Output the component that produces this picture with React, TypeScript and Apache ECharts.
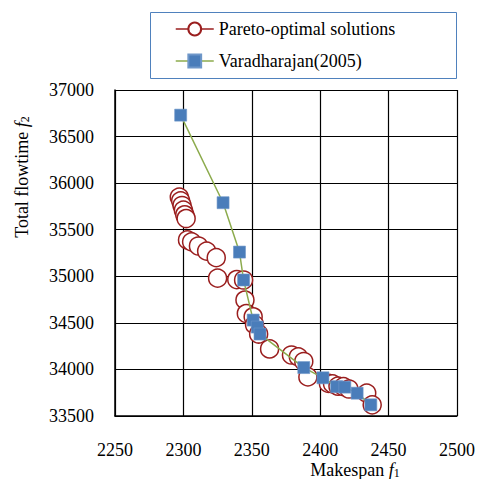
import React, { useEffect, useRef } from "react";
import * as echarts from "echarts";

// Pareto-optimal solutions (makespan f1, total flowtime f2)
const paretoMakespan = [2297, 2298, 2299, 2300, 2301, 2302, 2303, 2306, 2311, 2317, 2324, 2325, 2339, 2344, 2345, 2346, 2351, 2352, 2355, 2363, 2379, 2384, 2388, 2391, 2406, 2409, 2413, 2417, 2421, 2434, 2438];
const paretoFlowtime = [35850, 35810, 35760, 35710, 35660, 35620, 35390, 35370, 35325, 35270, 35200, 34980, 34965, 34960, 34745, 34600, 34565, 34480, 34380, 34220, 34155, 34135, 34085, 33920, 33850, 33845, 33820, 33815, 33790, 33745, 33620];

// Varadharajan (2005)
const varaMakespan = [2298, 2329, 2341, 2344, 2351, 2354, 2356, 2388, 2402, 2412, 2418, 2427, 2437];
const varaFlowtime = [36730, 35790, 35260, 34960, 34530, 34455, 34380, 34020, 33910, 33815, 33810, 33745, 33620];

const seriesNames = ["Pareto-optimal solutions", "Varadharajan(2005)"];
const xRange = [2250, 2500, 50];
const yRange = [33500, 37000, 500];

const FONT = "Liberation Serif";
const RED = "#9A1E1E";
const BLUE = "#4A7DBA";
const GREEN = "#8CAB4D";

export default function App() {
  const ref = useRef<HTMLDivElement>(null);
  useEffect(() => {
    if (!ref.current) return;
    const chart = echarts.init(ref.current, undefined, { renderer: "svg" });
    const pareto = paretoMakespan.map((x, i) => [x, paretoFlowtime[i]]);
    const vara = varaMakespan.map((x, i) => [x, varaFlowtime[i]]);
    const rich = {
      a: { fontFamily: FONT, fontSize: 18, lineHeight: 22, verticalAlign: "bottom", color: "#000" },
      i: { fontFamily: FONT, fontSize: 18, fontStyle: "italic", lineHeight: 22, verticalAlign: "bottom", color: "#000" },
      s: { fontFamily: FONT, fontSize: 12, lineHeight: 12, verticalAlign: "bottom", color: "#000" },
    };
    const tickRich = { n: { fontFamily: FONT, fontSize: 18, color: "#000" } };
    chart.setOption({
      animation: false,
      backgroundColor: "#ffffff",
      textStyle: { fontFamily: FONT, color: "#000" },
      grid: { left: 115, top: 90, right: 21, bottom: 63, containLabel: false },
      xAxis: {
        type: "value",
        min: xRange[0],
        max: xRange[1],
        interval: xRange[2],
        axisLine: { show: true, lineStyle: { color: "#000", width: 1.5 } },
        axisTick: { show: false },
        splitLine: { show: true, lineStyle: { color: "#000", width: 1.2 } },
        axisLabel: {
          color: "#000",
          fontFamily: FONT,
          fontSize: 18,
          margin: 25,
          formatter: (v: number) => "{n|" + String(v) + "}",
          rich: tickRich,
        },
      },
      yAxis: {
        type: "value",
        min: yRange[0],
        max: yRange[1],
        interval: yRange[2],
        axisLine: { show: true, lineStyle: { color: "#000", width: 1.5 } },
        axisTick: { show: false },
        splitLine: { show: true, lineStyle: { color: "#000", width: 1.2 } },
        axisLabel: {
          color: "#000",
          fontFamily: FONT,
          fontSize: 18,
          margin: 21,
          formatter: (v: number) => "{n|" + String(v) + "}",
          rich: tickRich,
        },
      },
      legend: {
        orient: "vertical",
        left: 170,
        top: 15,
        itemWidth: 38,
        itemHeight: 16,
        itemGap: 14,
        textStyle: { color: "#000", fontFamily: FONT, fontSize: 18 },
        data: [
          { name: seriesNames[0], lineStyle: { color: RED, width: 1.5, opacity: 1 } },
          { name: seriesNames[1], lineStyle: { color: GREEN, width: 1.5, opacity: 1 } },
        ],
      },
      graphic: [
        {
          type: "rect",
          shape: { x: 150.5, y: 12.5, width: 306, height: 66 },
          style: { fill: "none", stroke: "#4F81BD", lineWidth: 1 },
          z: 0,
        },
        {
          type: "text",
          x: 20,
          y: 177,
          rotation: Math.PI / 2,
          style: {
            text: "{a|Total flowtime }{i|f}{s|2}",
            align: "center",
            verticalAlign: "middle",
            fill: "#000",
            rich,
          },
        },
        {
          type: "text",
          x: 355,
          y: 468,
          style: {
            text: "{a|Makespan }{i|f}{s|1}",
            align: "center",
            verticalAlign: "middle",
            fill: "#000",
            rich,
          },
        },
      ],
      series: [
        {
          name: seriesNames[0],
          type: "line",
          data: pareto,
          symbol: "circle",
          symbolSize: 18,
          showAllSymbol: true,
          lineStyle: { width: 0, opacity: 0, color: RED },
          itemStyle: { color: "#ffffff", borderColor: RED, borderWidth: 1.5 },
          z: 3,
        },
        {
          name: seriesNames[1],
          type: "line",
          data: vara,
          symbol: "rect",
          symbolSize: 12,
          showAllSymbol: true,
          lineStyle: { width: 1.5, color: GREEN },
          itemStyle: { color: BLUE, borderColor: "#6F97C9", borderWidth: 0.6 },
          z: 4,
        },
      ],
    });
    return () => chart.dispose();
  }, []);
  return (
    <div
      ref={ref}
      style={{ position: "fixed", left: 0, top: 0, width: 478, height: 479, background: "#fff" }}
    />
  );
}
